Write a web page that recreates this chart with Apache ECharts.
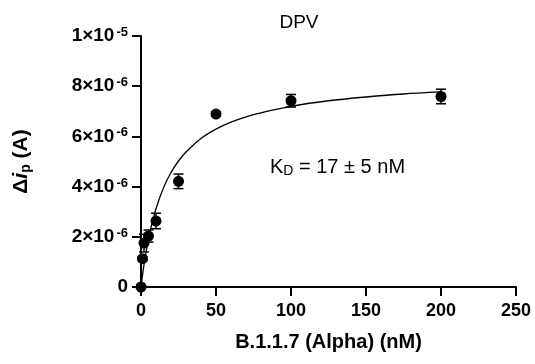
<!DOCTYPE html>
<html>
<head>
<meta charset="utf-8">
<script src="https://cdn.jsdelivr.net/npm/echarts@6/dist/echarts.min.js"></script>
<style>html,body{margin:0;padding:0;background:#fff}#c{width:535px;height:364px}</style>
</head>
<body>
<div id="c"></div>
<script>
// Data (y values in amperes)
const concentrations = [0, 1, 2, 5, 10, 25, 50, 100, 200];
const deltaIp = [0, 1.13e-6, 1.75e-6, 2.03e-6, 2.63e-6, 4.21e-6, 6.89e-6, 7.42e-6, 7.59e-6];
const errors = [0, 0.08e-6, 0.35e-6, 0.24e-6, 0.31e-6, 0.29e-6, 0.08e-6, 0.25e-6, 0.29e-6];
// Fitted binding curve
const fitX = [0, 1, 2, 3, 5, 7, 10, 15, 20, 25, 30, 40, 50, 60, 75, 100, 125, 150, 175, 200];
const fitY = [0, 0.47e-6, 0.89e-6, 1.26e-6, 1.92e-6, 2.46e-6, 3.12e-6, 3.95e-6, 4.56e-6, 5.02e-6, 5.38e-6, 5.92e-6, 6.29e-6, 6.57e-6, 6.87e-6, 7.20e-6, 7.42e-6, 7.57e-6, 7.69e-6, 7.77e-6];
const xTicks = [0, 50, 100, 150, 200, 250];
const yTickMantissa = ['0', '2×10', '4×10', '6×10', '8×10', '1×10'];
const yTickExponent = ['', '-6', '-6', '-6', '-6', '-5'];
const titleText = 'DPV';
const xAxisTitle = 'B.1.1.7 (Alpha) (nM)';
const kdText = ['K', 'D', ' = 17 ± 5 nM'];

const FONT = 'Liberation Sans, Arial, Helvetica, sans-serif';
const chart = echarts.init(document.getElementById('c'), null, {renderer: 'canvas'});

const scatterData = concentrations.map((x, i) => [x, deltaIp[i]]);
const errData = concentrations.map((x, i) => [x, deltaIp[i] - errors[i], deltaIp[i] + errors[i]]);
const fitData = fitX.map((x, i) => [x, fitY[i]]);

chart.setOption({
  animation: false,
  backgroundColor: '#fff',
  grid: {left: 141, right: 19, top: 36, bottom: 77, containLabel: false},
  title: {
    text: titleText, left: 294, top: 8, textAlign: 'center',
    textStyle: {fontFamily: FONT, fontSize: 19, fontWeight: 'normal', color: '#000'}
  },
  xAxis: {
    type: 'value', min: 0, max: 250, interval: 50,
    axisLine: {show: true, onZero: false, lineStyle: {color: '#000', width: 2}},
    axisTick: {show: true, length: 9, lineStyle: {color: '#000', width: 2}},
    splitLine: {show: false},
    axisLabel: {
      margin: 15, color: '#000', fontFamily: FONT, fontSize: 18, fontWeight: 'bold',
      formatter: v => { const i = xTicks.indexOf(Math.round(v)); return i >= 0 ? String(xTicks[i]) : ''; }
    },
    name: xAxisTitle, nameLocation: 'middle', nameGap: 45,
    nameTextStyle: {color: '#000', fontFamily: FONT, fontSize: 20, fontWeight: 'bold'}
  },
  yAxis: {
    type: 'value', min: 0, max: 1e-5, interval: 2e-6,
    axisLine: {show: true, onZero: false, lineStyle: {color: '#000', width: 2}},
    axisTick: {show: true, length: 9, lineStyle: {color: '#000', width: 2}},
    splitLine: {show: false},
    axisLabel: {
      margin: 13, color: '#000', fontFamily: FONT, fontSize: 19, fontWeight: 'bold',
      formatter: v => {
        const i = Math.round(v / 2e-6);
        if (i === 0) return '{m|0}';
        return '{m|' + yTickMantissa[i] + '}{s|' + yTickExponent[i] + '}';
      },
      rich: {
        m: {fontFamily: FONT, fontSize: 19, fontWeight: 'bold', color: '#000', height: 20, lineHeight: 20},
        s: {fontFamily: FONT, fontSize: 13, fontWeight: 'bold', color: '#000', verticalAlign: 'top', lineHeight: 13, padding: [0, 0, 9, 2]}
      }
    },
    name: '{d|Δ}{i|i}{p|p}{d| (A)}', nameLocation: 'middle', nameGap: 108, nameRotate: 90,
    nameTextStyle: {
      color: '#000',
      rich: {
        d: {fontFamily: FONT, fontSize: 21, fontWeight: 'bold', color: '#000', height: 24, lineHeight: 24},
        i: {fontFamily: FONT, fontSize: 21, fontWeight: 'bold', fontStyle: 'italic', color: '#000', height: 24, lineHeight: 24},
        p: {fontFamily: FONT, fontSize: 14, fontWeight: 'bold', color: '#000', verticalAlign: 'bottom', padding: [9, 0, 0, 0]}
      }
    }
  },
  graphic: [{
    type: 'text', left: 270, top: 156,
    style: {
      text: '{k|' + kdText[0] + '}{sub|' + kdText[1] + '}{k|' + kdText[2] + '}',
      rich: {
        k: {fontFamily: FONT, fontSize: 20, fill: '#000', height: 22, lineHeight: 22},
        sub: {fontFamily: FONT, fontSize: 14, fill: '#000', verticalAlign: 'bottom', padding: [8, 0, 0, 0]}
      }
    }
  }],
  series: [
    {
      type: 'line', data: fitData, smooth: 0.3, symbol: 'none', z: 2,
      lineStyle: {color: '#000', width: 1.3}
    },
    {
      type: 'custom', data: errData, z: 3,
      renderItem: (params, api) => {
        const x = api.value(0);
        const lo = api.coord([x, api.value(1)]);
        const hi = api.coord([x, api.value(2)]);
        const hw = 5;
        const st = {stroke: '#000', lineWidth: 1.5};
        return {type: 'group', children: [
          {type: 'line', shape: {x1: lo[0], y1: lo[1], x2: hi[0], y2: hi[1]}, style: st},
          {type: 'line', shape: {x1: lo[0] - hw, y1: lo[1], x2: lo[0] + hw, y2: lo[1]}, style: st},
          {type: 'line', shape: {x1: hi[0] - hw, y1: hi[1], x2: hi[0] + hw, y2: hi[1]}, style: st}
        ]};
      }
    },
    {
      type: 'scatter', data: scatterData, symbol: 'circle', symbolSize: 11, z: 4,
      itemStyle: {color: '#000', opacity: 1}
    }
  ]
});
</script>
</body>
</html>
